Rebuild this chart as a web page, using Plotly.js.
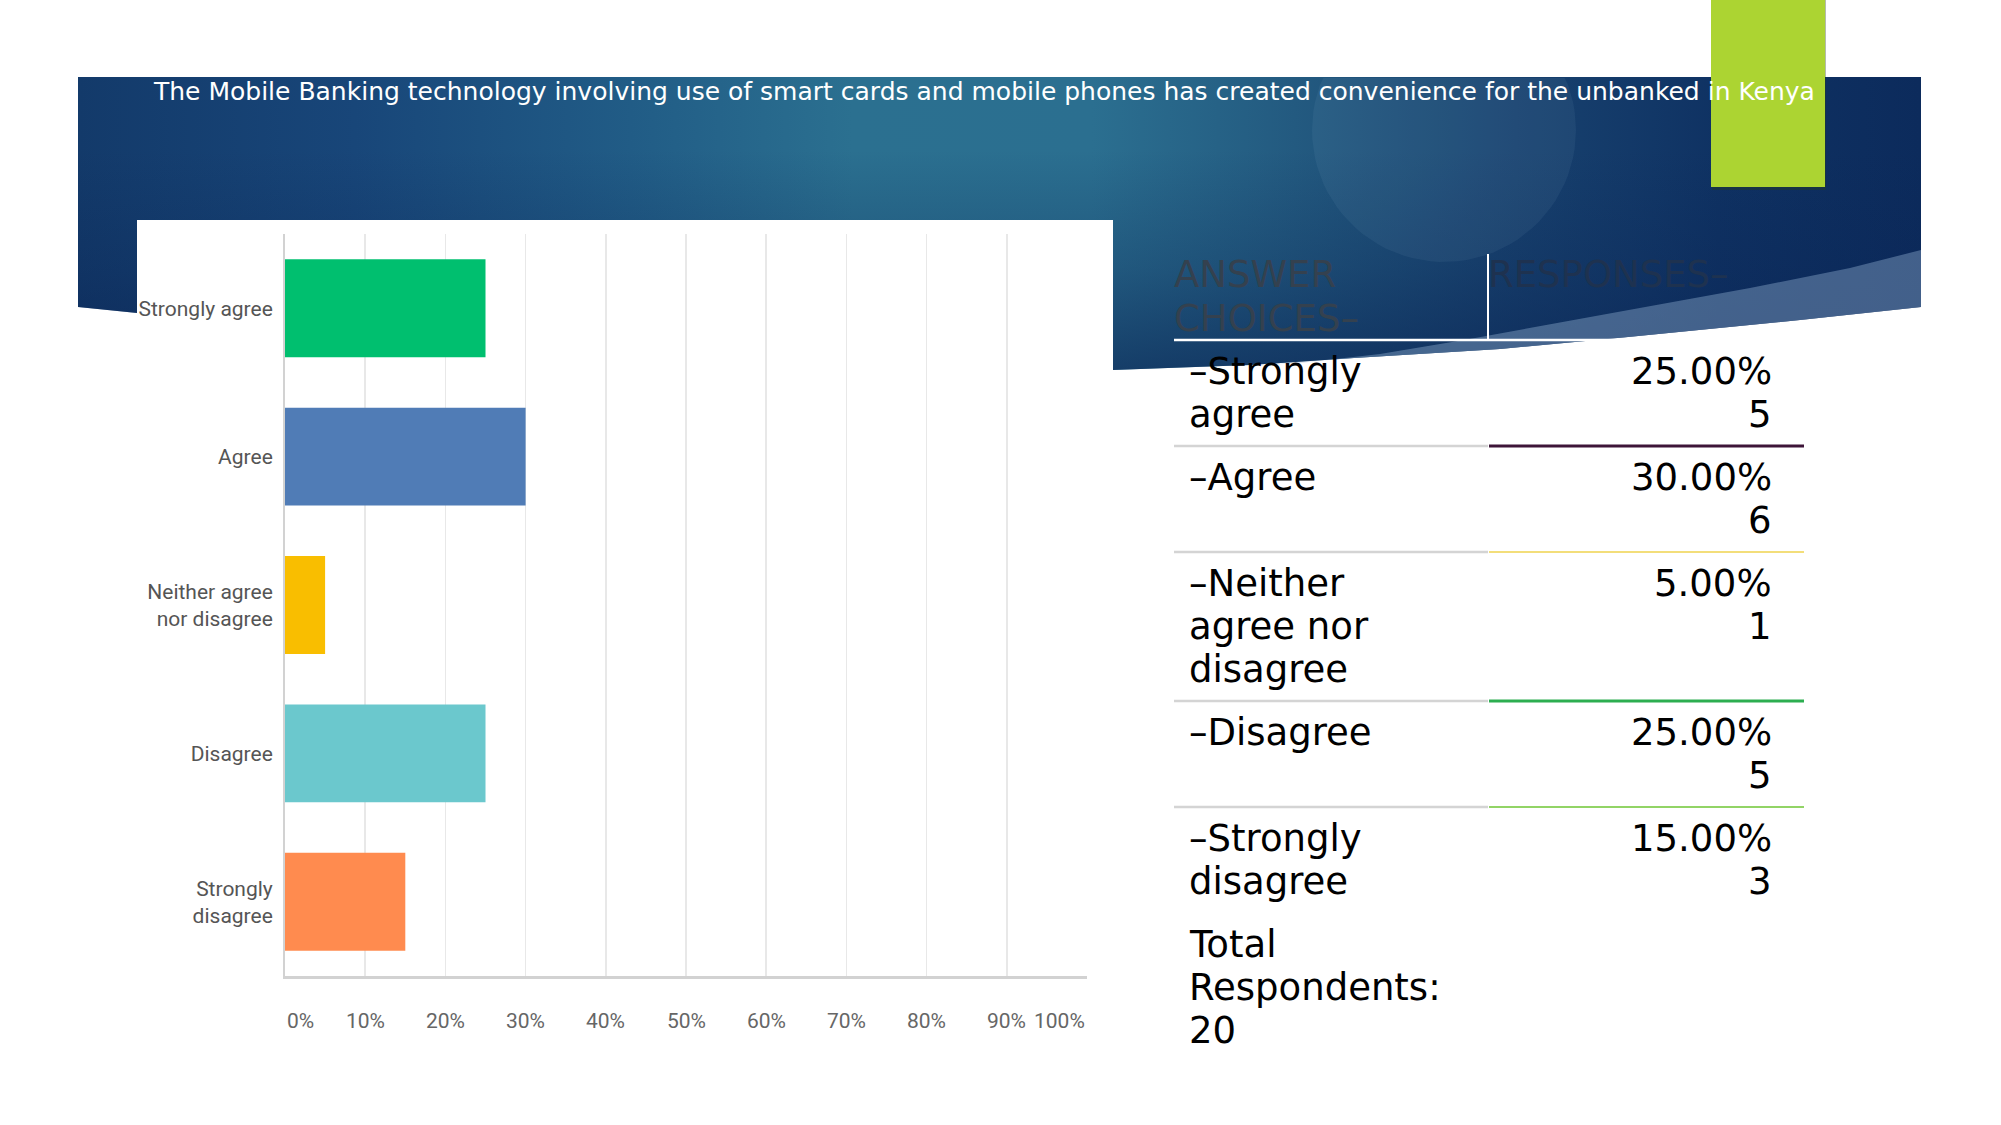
<!DOCTYPE html>
<html>
<head>
<meta charset="utf-8">
<script src="https://cdn.plot.ly/plotly-3.0.1.min.js"></script>
<style>html,body{margin:0;padding:0;background:#fff;}#chart{width:2001px;height:1125px;}</style>
</head>
<body>
<div id="chart"></div>
<script>
// ---------- data ----------
const slideTitle = 'The Mobile Banking technology involving use of smart cards and mobile phones has created convenience for the unbanked in Kenya';
const categories = ['Strongly agree', 'Agree', 'Neither agree nor disagree', 'Disagree', 'Strongly disagree'];
const axisLabels = ['Strongly agree', 'Agree', 'Neither agree<br>nor disagree', 'Disagree', 'Strongly<br>disagree'];
const percents = [25, 30, 5, 25, 15];
const counts = [5, 6, 1, 5, 3];
const totalRespondents = 20;
const xTickVals = [0, 10, 20, 30, 40, 50, 60, 70, 80, 90, 100];
const xTickText = ['0%', '10%', '20%', '30%', '40%', '50%', '60%', '70%', '80%', '90%', '100%'];
const tableHeader = [['ANSWER', 'CHOICES–'], ['RESPONSES–']];
const tableChoiceLines = [['–Strongly', 'agree'], ['–Agree'], ['–Neither', 'agree nor', 'disagree'], ['–Disagree'], ['–Strongly', 'disagree']];
const totalLines = ['Total', 'Respondents:', String(totalRespondents)];

// ---------- styles ----------
const barColors = ['#00bf6f', '#507cb6', '#f9be00', '#6bc8cd', '#ff8b4f'];
const rowLineColors = ['#3d1538', '#f3de7a', '#2cae50', '#92d466'];
const W = 2001, H = 1125;
const labelFont = 'Roboto, Liberation Sans, sans-serif';
const slideFont = 'DejaVu Sans, Verdana, sans-serif';

// ---------- decorative slide background (pixel coordinates on hidden axes) ----------
function bg(xs, ys, color, extra) {
  return Object.assign({type: 'scatter', x: xs, y: ys, xaxis: 'x', yaxis: 'y', mode: 'lines',
    fill: 'toself', fillcolor: color, line: {width: 0, color: 'rgba(0,0,0,0)'},
    hoverinfo: 'skip', showlegend: false}, extra || {});
}
const bannerX = [78, 1921, 1921, 1800, 1628, 1500, 1354, 1250, 1113, 600, 137, 78, 78];
const bannerY = [77, 77, 307, 320, 337, 349, 358, 365, 370, 345, 313, 307, 77];
const traces = [];
traces.push(bg(bannerX, bannerY, '#1b4a78', {fillgradient: {type: 'horizontal', colorscale: [
  [0, '#133a6a'], [0.15, '#184679'], [0.3, '#215c86'], [0.42, '#2b7090'], [0.55, '#2b6f90'],
  [0.66, '#235a80'], [0.78, '#18426f'], [0.89, '#0f3263'], [1, '#0c2b5c']]}}));
traces.push(bg(bannerX, bannerY, 'rgba(0,0,0,0)', {fillgradient: {type: 'vertical', colorscale: [
  [0, 'rgba(10,36,84,0.65)'], [0.35, 'rgba(10,36,84,0.28)'], [0.75, 'rgba(10,36,84,0)'], [1, 'rgba(10,36,84,0)']]}}));
// translucent circle (only the part inside the banner)
const cx = [], cy = [];
for (let i = 0; i <= 90; i++) { const a = i / 90 * 2 * Math.PI; cx.push(1444 + 132 * Math.cos(a)); cy.push(Math.max(78, 130 + 132 * Math.sin(a))); }
traces.push(bg(cx, cy, 'rgba(150,185,215,0.08)'));
// swoosh
traces.push(bg([1921, 1850, 1750, 1628, 1530, 1464, 1380, 1300, 1250, 1354, 1500, 1628, 1800, 1921, 1921],
               [250, 268, 288, 310, 328, 340, 354, 363, 366, 358, 349, 337, 320, 307, 250], 'rgba(150,180,212,0.4)'));
// green tab + shadow
traces.push(bg([1712, 1826, 1826, 1712, 1712], [0, 0, 190, 190, 0], 'rgba(40,60,20,0.35)'));
traces.push(bg([1711, 1825, 1825, 1711, 1711], [0, 0, 187, 187, 0], '#acd432'));
// white chart panel
traces.push(bg([137, 1113, 1113, 137, 137], [220, 220, 1080, 1080, 220], '#ffffff'));

// ---------- bar chart ----------
traces.push({
  type: 'bar', orientation: 'h', x: percents, y: axisLabels, xaxis: 'x2', yaxis: 'y2',
  marker: {color: barColors, line: {width: 0}}, width: 0.66, hoverinfo: 'skip', showlegend: false
});

// ---------- annotations ----------
const ann = [];
ann.push({xref: 'x', yref: 'y', x: 151, y: 91, xanchor: 'left', yanchor: 'middle', showarrow: false,
  text: slideTitle, font: {family: slideFont, size: 25, color: '#ffffff'}});
xTickVals.forEach((v, i) => {
  ann.push({xref: 'x2', yref: 'y', x: v, y: 1021, showarrow: false,
    xanchor: i === 0 ? 'left' : (i === xTickVals.length - 1 ? 'right' : 'center'), yanchor: 'middle',
    text: xTickText[i], font: {family: labelFont, size: 21, color: '#666666'}});
});
// table
const LH = 43.4, X_LEFT = 1189, X_RIGHT = 1774, TX0 = 1174, TXM = 1488, TX1 = 1804;
const tfont = {family: slideFont, size: 37, color: '#000000'};
tableHeader[0].forEach((t, i) => ann.push({xref: 'x', yref: 'y', x: TX0 - 2, y: 274 + i * 44, xanchor: 'left', yanchor: 'middle',
  showarrow: false, text: t, font: {family: slideFont, size: 37, color: '#34414f'}}));
tableHeader[1].forEach((t, i) => ann.push({xref: 'x', yref: 'y', x: TXM - 2, y: 274 + i * 44, xanchor: 'left', yanchor: 'middle',
  showarrow: false, text: t, font: {family: slideFont, size: 37, color: '#1e3250'}}));
const shapes = [];
shapes.push({type: 'line', xref: 'x', yref: 'y', x0: TX0, x1: TX1, y0: 340, y1: 340, line: {color: '#ffffff', width: 2.5}, layer: 'above'});
shapes.push({type: 'line', xref: 'x', yref: 'y', x0: TXM, x1: TXM, y0: 254, y1: 340, line: {color: '#ffffff', width: 2}, layer: 'above'});
let rowTop = 340;
categories.forEach((c, r) => {
  const lines = tableChoiceLines[r];
  lines.forEach((t, i) => ann.push({xref: 'x', yref: 'y', x: X_LEFT - 2, y: rowTop + 31 + i * LH, xanchor: 'left', yanchor: 'middle',
    showarrow: false, text: t, font: tfont}));
  ann.push({xref: 'x', yref: 'y', x: X_RIGHT, y: rowTop + 31, xanchor: 'right', yanchor: 'middle', showarrow: false,
    text: percents[r].toFixed(2) + '%', font: tfont});
  ann.push({xref: 'x', yref: 'y', x: X_RIGHT, y: rowTop + 31 + LH, xanchor: 'right', yanchor: 'middle', showarrow: false,
    text: String(counts[r]), font: tfont});
  const n = Math.max(lines.length, 2);
  rowTop = rowTop + 20 + n * 43;
  if (r < categories.length - 1) {
    shapes.push({type: 'line', xref: 'x', yref: 'y', x0: TX0, x1: TXM, y0: rowTop, y1: rowTop, line: {color: '#d4d4d4', width: 2.5}, layer: 'above'});
    shapes.push({type: 'line', xref: 'x', yref: 'y', x0: TXM + 1, x1: TX1, y0: rowTop, y1: rowTop, line: {color: rowLineColors[r], width: r === 0 || r === 2 ? 3 : 2}, layer: 'above'});
  }
});
totalLines.forEach((t, i) => ann.push({xref: 'x', yref: 'y', x: X_LEFT - 2, y: rowTop + 31 + i * LH, xanchor: 'left', yanchor: 'middle',
  showarrow: false, text: t, font: tfont}));

const layout = {
  width: W, height: H, margin: {l: 0, r: 0, t: 0, b: 0},
  paper_bgcolor: '#ffffff', plot_bgcolor: 'rgba(0,0,0,0)', showlegend: false, hovermode: false,
  xaxis: {domain: [0, 1], range: [0, W], visible: false, fixedrange: true},
  yaxis: {domain: [0, 1], range: [H, 0], visible: false, fixedrange: true},
  xaxis2: {domain: [285 / W, 1087 / W], range: [0, 100], anchor: 'y2', tickvals: xTickVals, showticklabels: false,
    showgrid: true, gridcolor: '#e8e8e8', gridwidth: 1.5, zeroline: false, showline: true, linecolor: '#d2d2d2', linewidth: 2.5,
    ticks: '', fixedrange: true},
  yaxis2: {domain: [1 - 976 / H, 1 - 234 / H], anchor: 'x2', type: 'category', categoryorder: 'array', categoryarray: axisLabels,
    range: [4.5, -0.5], showgrid: false, zeroline: false, showline: true, linecolor: '#d2d2d2', linewidth: 2,
    ticks: '', ticklabelstandoff: 6, tickfont: {family: labelFont, size: 21, color: '#555555'}, fixedrange: true},
  annotations: ann, shapes: shapes
};
Plotly.newPlot('chart', traces, layout, {displayModeBar: false, staticPlot: true});
</script>
</body>
</html>
